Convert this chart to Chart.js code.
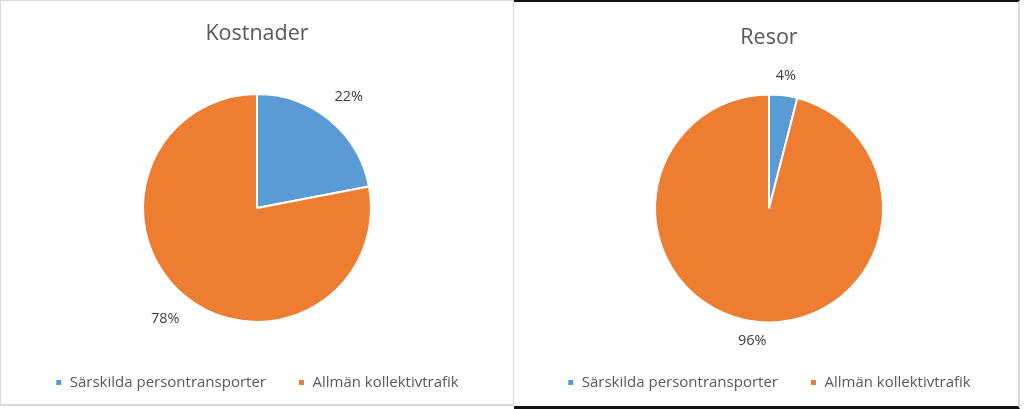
<!DOCTYPE html>
<html>
<head>
<meta charset="utf-8">
<script src="https://cdn.jsdelivr.net/npm/chart.js@4/dist/chart.umd.min.js"></script>
<style>
  html, body { margin: 0; padding: 0; background: #fff; }
  body { width: 1024px; height: 409px; position: relative; overflow: hidden; }
  .box { position: absolute; box-sizing: border-box; background: #fff; }
  #left { left: 0; top: 0; width: 515px; height: 406px; border: 1px solid #d9d9d9; border-width: 1px 2px 2px 1px; }
  #right { left: 514px; top: 0; width: 506px; height: 409px; border-top: 2px solid #111; border-bottom: 3px solid #111; border-right: 2px solid #d9d9d9; }
  canvas { display: block; }
</style>
</head>
<body>
<div class="box" id="left"><canvas id="c1"></canvas></div>
<div class="box" id="right"><canvas id="c2"></canvas></div>
<script>
// categories and values
const categories = ['Särskilda persontransporter', 'Allmän kollektivtrafik']
const kostnader = [22, 78]
const resor = [4, 96]
const colors = ['#5B9BD5', '#ED7D31']
const fontFamily = '"Open Sans", "Noto Sans", sans-serif'

// draw the percent labels just outside every slice
const outsideLabels = {
  id: 'outsideLabels',
  afterDatasetsDraw(chart, args, opts) {
    const ctx = chart.ctx
    const meta = chart.getDatasetMeta(0)
    const data = chart.data.datasets[0].data
    ctx.save()
    ctx.font = '14.5px ' + fontFamily
    ctx.fillStyle = '#404040'
    ctx.textAlign = 'center'
    ctx.textBaseline = 'middle'
    meta.data.forEach((arc, i) => {
      const mid = (arc.startAngle + arc.endAngle) / 2
      const r = arc.outerRadius + opts.offset
      ctx.fillText(data[i] + '%', arc.x + Math.cos(mid) * r, arc.y + Math.sin(mid) * r)
    })
    ctx.restore()
  }
}

function makePie(id, title, values, w, h, offset, titlePad, pad) {
  const canvas = document.getElementById(id)
  canvas.width = w
  canvas.height = h
  canvas.style.width = w + 'px'
  canvas.style.height = h + 'px'
  return new Chart(canvas, {
    type: 'pie',
    data: {
      labels: categories,
      datasets: [{
        data: values,
        backgroundColor: colors,
        borderColor: '#ffffff',
        borderWidth: 2,
        radius: 114
      }]
    },
    options: {
      responsive: false,
      animation: false,
      devicePixelRatio: 1,
      layout: { padding: pad },
      plugins: {
        title: {
          display: true,
          text: title,
          color: '#595959',
          font: { family: fontFamily, size: 21.5, weight: 'normal' },
          padding: titlePad
        },
        legend: {
          position: 'bottom',
          labels: {
            usePointStyle: true,
            pointStyle: 'rect',
            boxWidth: 7,
            boxHeight: 7,
            padding: 32,
            color: '#595959',
            font: { family: fontFamily, size: 15 }
          }
        },
        tooltip: { enabled: false },
        outsideLabels: { offset: offset }
      }
    },
    plugins: [outsideLabels]
  })
}

makePie('c1', 'Kostnader', kostnader, 512, 403, 30, { top: 20, bottom: 26 }, { top: 0, bottom: 4 })
makePie('c2', 'Resor', resor, 504, 404, 20, { top: 23, bottom: 23 }, { top: 0, bottom: 6, left: 6 })
</script>
</body>
</html>
